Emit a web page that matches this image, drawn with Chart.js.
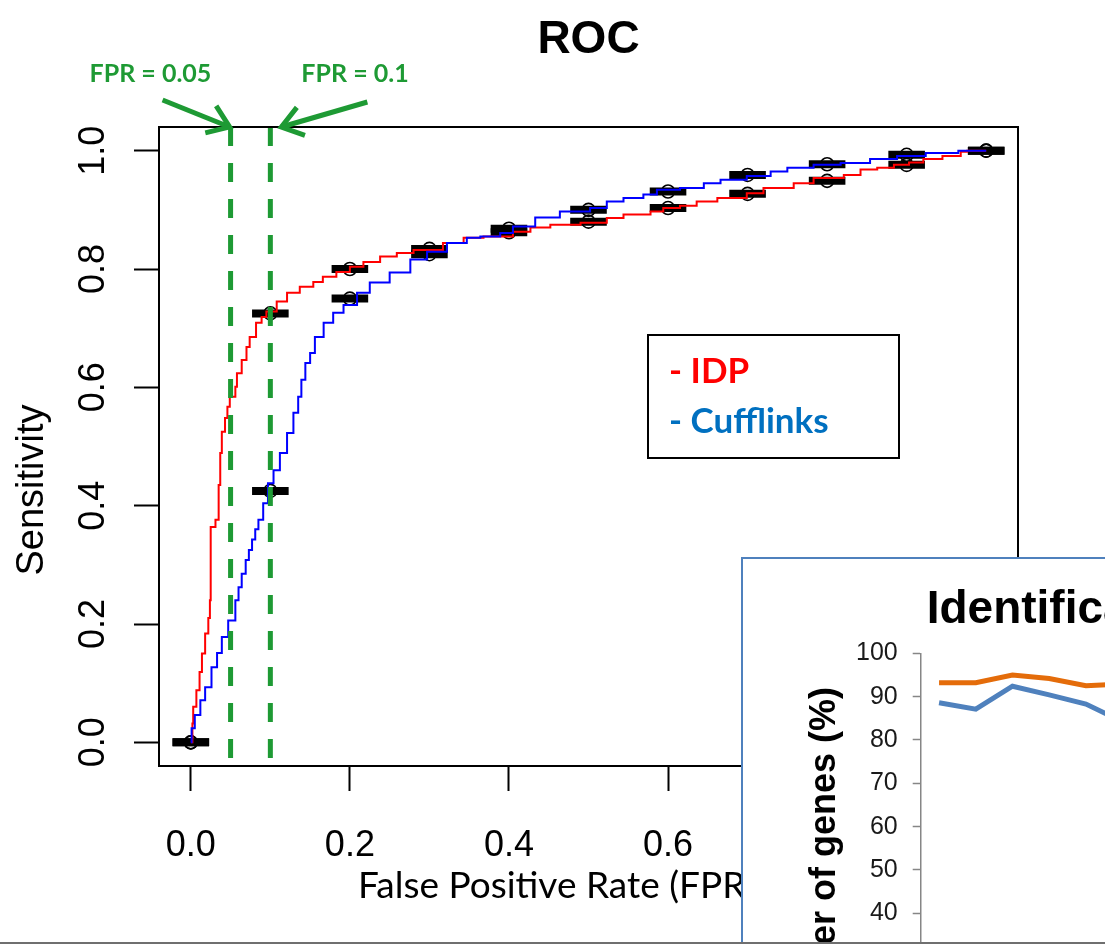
<!DOCTYPE html>
<html><head><meta charset="utf-8">
<script src="https://cdn.jsdelivr.net/npm/chart.js@4/dist/chart.umd.min.js"></script>
<style>
html,body{margin:0;padding:0;background:#fff;overflow:hidden;width:1105px;height:944px;}
#wrap{position:relative;width:1105px;height:944px;overflow:hidden;background:#fff;}
#roc{position:absolute;left:0;top:0;}
#inset{position:absolute;left:741px;top:557px;width:600px;height:600px;border:2px solid #4F81BD;background:#fff;overflow:hidden;}
#insetCanvas{position:absolute;left:0;top:0;}
#bottomLine{position:absolute;left:0;top:942px;width:1105px;height:2px;background:#6f6f6f;}
</style></head><body>
<div id="wrap">
<canvas id="roc" width="1105" height="944"></canvas>
<div id="inset"><canvas id="insetCanvas" width="440" height="600"></canvas></div>
<div id="bottomLine"></div>
</div>
<script>
// ---------- data: main ROC chart ----------
const fprTicks = [0, 0.2, 0.4, 0.6, 0.8, 1.0];
const sensTicks = [0, 0.2, 0.4, 0.6, 0.8, 1.0];

const idpFpr = [0, 0.002, 0.003, 0.007, 0.011, 0.014, 0.018, 0.022, 0.024, 0.025, 0.031, 0.035, 0.037, 0.039, 0.043, 0.046, 0.049, 0.056, 0.058, 0.064, 0.070, 0.074, 0.082, 0.089, 0.095, 0.108, 0.121, 0.137, 0.154, 0.166, 0.183, 0.200, 0.217, 0.238, 0.259, 0.280, 0.317, 0.343, 0.368, 0.405, 0.427, 0.452, 0.490, 0.523, 0.544, 0.578, 0.594, 0.615, 0.636, 0.662, 0.699, 0.720, 0.758, 0.783, 0.821, 0.842, 0.863, 0.884, 0.903, 0.921, 0.945, 0.968, 0.976, 1.0];
const idpSens = [0, 0.032, 0.060, 0.088, 0.119, 0.150, 0.184, 0.210, 0.240, 0.364, 0.376, 0.435, 0.489, 0.525, 0.548, 0.567, 0.584, 0.601, 0.624, 0.646, 0.668, 0.685, 0.709, 0.719, 0.728, 0.745, 0.760, 0.770, 0.778, 0.787, 0.795, 0.804, 0.812, 0.821, 0.827, 0.832, 0.844, 0.853, 0.855, 0.863, 0.870, 0.875, 0.878, 0.886, 0.892, 0.897, 0.903, 0.907, 0.914, 0.920, 0.928, 0.937, 0.945, 0.954, 0.959, 0.968, 0.971, 0.976, 0.980, 0.986, 0.991, 0.998, 1.0, 1.0];

const cuffFpr = [0, 0.001, 0.005, 0.012, 0.018, 0.026, 0.033, 0.039, 0.047, 0.056, 0.060, 0.064, 0.069, 0.073, 0.077, 0.081, 0.085, 0.091, 0.097, 0.104, 0.112, 0.121, 0.129, 0.135, 0.139, 0.144, 0.150, 0.156, 0.167, 0.179, 0.192, 0.209, 0.225, 0.250, 0.276, 0.297, 0.322, 0.347, 0.364, 0.389, 0.405, 0.433, 0.464, 0.502, 0.523, 0.544, 0.569, 0.586, 0.615, 0.645, 0.666, 0.699, 0.729, 0.750, 0.783, 0.817, 0.854, 0.888, 0.924, 0.965, 1.0];
const cuffSens = [0, 0.024, 0.046, 0.071, 0.093, 0.127, 0.151, 0.178, 0.206, 0.240, 0.262, 0.285, 0.308, 0.325, 0.343, 0.360, 0.376, 0.404, 0.438, 0.460, 0.489, 0.523, 0.557, 0.584, 0.613, 0.641, 0.658, 0.685, 0.709, 0.726, 0.739, 0.760, 0.777, 0.794, 0.816, 0.829, 0.844, 0.853, 0.855, 0.861, 0.872, 0.887, 0.897, 0.903, 0.914, 0.920, 0.926, 0.934, 0.937, 0.945, 0.951, 0.957, 0.965, 0.971, 0.976, 0.979, 0.986, 0.991, 0.996, 1.0, 1.0];

const markerFpr = [0, 0.1, 0.2, 0.3, 0.4, 0.5, 0.6, 0.7, 0.8, 0.9, 1.0];
const idpMarkerSens = [0, 0.725, 0.800, 0.834, 0.862, 0.880, 0.903, 0.927, 0.949, 0.976, 1.0];
const cuffMarkerSens = [0, 0.425, 0.750, 0.825, 0.868, 0.900, 0.931, 0.959, 0.977, 0.993, 1.0];
const ciHalfWidth = 0.023;

const fprCutoffs = [0.05, 0.1];
const cutoffLabels = ['FPR = 0.05', 'FPR = 0.1'];
const seriesNames = ['IDP', 'Cufflinks'];
const titleText = 'ROC';
const xTitle = 'False Positive Rate (FPR)';
const yTitle = 'Sensitivity';

// ---------- data: inset chart ----------
const insetLabels = ['1', '2', '3', '4', '5', '6'];
const insetIdp = [93.2, 93.2, 95.0, 94.2, 92.5, 92.9];
const insetCuff = [88.6, 87.1, 92.4, 90.4, 88.3, 84.2];
const insetTicks = [0, 10, 20, 30, 40, 50, 60, 70, 80, 90, 100];
const insetTitle = 'Identification';
const insetYTitle = 'Number of genes (%)';

// ---------- colours ----------
const GREEN = '#1E9A34';
const RED = '#FF0000';
const BLUE = '#0000FF';
const LEG_BLUE = '#0070C0';

function toPoints(xs, ys) { return xs.map((x, i) => ({ x: x, y: ys[i] })); }
function ciSegments(ys) {
  const out = [];
  markerFpr.forEach((x, i) => {
    out.push({ x: x - ciHalfWidth, y: ys[i] }, { x: x + ciHalfWidth, y: ys[i] }, { x: x + ciHalfWidth, y: null });
  });
  return out;
}
function cutoffSegments() {
  const out = [];
  fprCutoffs.forEach(c => { out.push({ x: c, y: 1.04 }, { x: c, y: -0.04 }, { x: c, y: null }); });
  return out;
}

function arrow(ctx, tx, ty, fx, fy) {
  ctx.beginPath();
  ctx.moveTo(fx, fy); ctx.lineTo(tx, ty); ctx.stroke();
  const ang = Math.atan2(ty - fy, tx - fx);
  const L = 25, sp = 0.62;
  ctx.beginPath();
  ctx.moveTo(tx - L * Math.cos(ang - sp), ty - L * Math.sin(ang - sp));
  ctx.lineTo(tx, ty);
  ctx.lineTo(tx - L * Math.cos(ang + sp), ty - L * Math.sin(ang + sp));
  ctx.stroke();
}

const rocDecor = {
  id: 'rocDecor',
  afterDraw(chart) {
    const { ctx, chartArea: a, scales: { x } } = chart;
    ctx.save();
    // plot box
    ctx.strokeStyle = '#000'; ctx.lineWidth = 2;
    ctx.strokeRect(a.left, a.top, a.right - a.left, a.bottom - a.top);
    // title
    ctx.fillStyle = '#000';
    ctx.font = 'bold 46px "Liberation Sans"';
    ctx.textAlign = 'center'; ctx.textBaseline = 'alphabetic';
    ctx.fillText(titleText, (a.left + a.right) / 2, 53);
    // y title
    ctx.save();
    ctx.translate(43, 490); ctx.rotate(-Math.PI / 2);
    ctx.font = '38px "Liberation Sans"';
    ctx.fillText(yTitle, 0, 0);
    ctx.restore();
    // x title
    ctx.textAlign = 'left';
    ctx.font = '37px Lato';
    ctx.fillText(xTitle, 358, 898);
    // legend box
    ctx.lineWidth = 2; ctx.strokeStyle = '#000';
    ctx.strokeRect(648, 335, 251, 123);
    ctx.font = 'bold 35px Lato';
    ctx.fillStyle = RED; ctx.fillText('- ' + seriesNames[0], 669, 383);
    ctx.fillStyle = LEG_BLUE; ctx.fillText('- ' + seriesNames[1], 669, 433);
    // arrows to the cut-off lines
    ctx.strokeStyle = GREEN; ctx.fillStyle = GREEN; ctx.lineWidth = 5; ctx.lineCap = 'butt';
    const t1x = x.getPixelForValue(fprCutoffs[0]) - 1, t1y = a.top;
    const t2x = x.getPixelForValue(fprCutoffs[1]) + 11, t2y = a.top;
    arrow(ctx, t1x, t1y, t1x - 67, t1y - 27);
    arrow(ctx, t2x, t2y, t2x + 86, t2y - 25);
    ctx.font = 'bold 25px Lato';
    ctx.textAlign = 'left';
    ctx.fillText(cutoffLabels[0], t1x - 140, 82);
    ctx.fillText(cutoffLabels[1], t2x + 20, 82);
    ctx.restore();
  }
};

new Chart(document.getElementById('roc'), {
  type: 'line',
  data: {
    datasets: [
      { label: 'cutoffs', data: cutoffSegments(), borderColor: GREEN, borderWidth: 5, borderDash: [19, 17], borderCapStyle: 'butt', pointRadius: 0, spanGaps: false, order: 0 },
      { label: seriesNames[1], data: toPoints(cuffFpr, cuffSens), borderColor: BLUE, borderWidth: 2, pointRadius: 0, stepped: 'before', order: 1 },
      { label: seriesNames[0], data: toPoints(idpFpr, idpSens), borderColor: RED, borderWidth: 2, pointRadius: 0, stepped: 'before', order: 2 },
      { label: 'points', data: toPoints(markerFpr, idpMarkerSens).concat(toPoints(markerFpr, cuffMarkerSens)), showLine: false, pointRadius: 6.5, pointBorderWidth: 1.6, pointBorderColor: '#000', pointBackgroundColor: 'rgba(0,0,0,0)', order: 3 },
      { label: 'ciIdp', data: ciSegments(idpMarkerSens), borderColor: '#000', borderWidth: 8, borderCapStyle: 'butt', pointRadius: 0, spanGaps: false, order: 4 },
      { label: 'ciCuff', data: ciSegments(cuffMarkerSens), borderColor: '#000', borderWidth: 8, borderCapStyle: 'butt', pointRadius: 0, spanGaps: false, order: 4 }
    ]
  },
  options: {
    responsive: false, animation: false, devicePixelRatio: 1,
    layout: { padding: { left: 0, top: 127, right: 87, bottom: 0 } },
    plugins: { legend: { display: false }, tooltip: { enabled: false }, title: { display: false } },
    scales: {
      x: {
        type: 'linear', min: -0.04, max: 1.04,
        afterBuildTicks: s => { s.ticks = fprTicks.map(v => ({ value: v })); },
        afterFit: s => { s.height = 178; },
        grid: { drawOnChartArea: false, drawTicks: true, tickLength: 25, tickWidth: 2, tickColor: '#000' },
        border: { display: false },
        ticks: { padding: 33, color: '#000', font: { family: 'Liberation Sans', size: 36 }, callback: v => Number(v).toFixed(1), minRotation: 0, maxRotation: 0, autoSkip: false }
      },
      y: {
        type: 'linear', min: -0.04, max: 1.04,
        afterBuildTicks: s => { s.ticks = sensTicks.map(v => ({ value: v })); },
        afterFit: s => { s.width = 159; },
        grid: { drawOnChartArea: false, drawTicks: true, tickLength: 25, tickWidth: 2, tickColor: '#000' },
        border: { display: false },
        ticks: { padding: 15, crossAlign: 'center', minRotation: 90, maxRotation: 90, color: '#000', font: { family: 'Liberation Sans', size: 36 }, callback: v => Number(v).toFixed(1), autoSkip: false }
      }
    }
  },
  plugins: [rocDecor]
});

const insetDecor = {
  id: 'insetDecor',
  afterDraw(chart) {
    const { ctx, chartArea: a } = chart;
    ctx.save();
    ctx.fillStyle = '#000';
    ctx.font = 'bold 46px "Liberation Sans"';
    ctx.textAlign = 'left'; ctx.textBaseline = 'alphabetic';
    ctx.fillText(insetTitle, a.left + 6, 64);
    ctx.save();
    ctx.translate(92, 128); ctx.rotate(-Math.PI / 2);
    ctx.font = 'bold 36px "Liberation Sans"';
    ctx.textAlign = 'right';
    ctx.fillText(insetYTitle, 0, 0);
    ctx.restore();
    ctx.restore();
  }
};

new Chart(document.getElementById('insetCanvas'), {
  type: 'line',
  data: {
    labels: insetLabels,
    datasets: [
      { label: seriesNames[1], data: insetCuff, borderColor: '#4F81BD', borderWidth: 5, pointRadius: 0, tension: 0, order: 1 },
      { label: seriesNames[0], data: insetIdp, borderColor: '#E46C0A', borderWidth: 5, pointRadius: 0, tension: 0, order: 0 }
    ]
  },
  options: {
    responsive: false, animation: false, devicePixelRatio: 1,
    layout: { padding: { left: 0, top: 94.3, right: 42, bottom: 72.4 } },
    plugins: { legend: { display: false }, tooltip: { enabled: false } },
    scales: {
      x: { display: false, offset: true },
      y: {
        min: 0, max: 100,
        afterBuildTicks: s => { s.ticks = insetTicks.map(v => ({ value: v })); },
        afterFit: s => { s.width = 177.7; },
        grid: { drawOnChartArea: false, drawTicks: true, tickLength: 8, tickColor: '#868686', tickWidth: 1.5 },
        border: { display: true, color: '#868686', width: 1.5 },
        ticks: { padding: 15, color: '#1a1a1a', font: { family: 'Liberation Sans', size: 25 }, autoSkip: false }
      }
    }
  },
  plugins: [insetDecor]
});
</script>
</body></html>
